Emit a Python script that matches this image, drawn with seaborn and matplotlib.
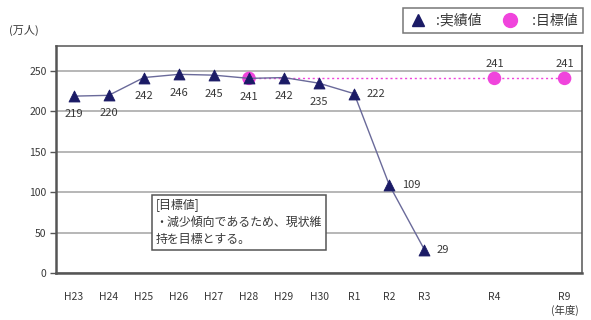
import matplotlib
matplotlib.use("Agg")
import matplotlib.pyplot as plt
from matplotlib.lines import Line2D
import seaborn as sns
import pandas as pd

sns.set_theme(style="white")
plt.rcParams["font.family"] = ["Noto Sans CJK JP", "DejaVu Sans"]

# fiscal years on the axis (blank slots keep the gap before R4 and R9)
year_labels = ["H23", "H24", "H25", "H26", "H27", "H28", "H29", "H30",
               "R1", "R2", "R3", "", "R4", "", "R9"]
actual_years = ["H23", "H24", "H25", "H26", "H27", "H28", "H29", "H30",
                "R1", "R2", "R3"]
actual_values = [219, 220, 242, 246, 245, 241, 242, 235, 222, 109, 29]
target_years = ["H28", "R4", "R9"]
target_values = [241, 241, 241]

pos = {y: i for i, y in enumerate(year_labels) if y}
actual = pd.DataFrame({"x": [pos[y] for y in actual_years], "v": actual_values})
target = pd.DataFrame({"x": [pos[y] for y in target_years], "v": target_values})

navy = "#1b1b66"
pink = "#f044dc"
txt = "#383838"

fig = plt.figure(figsize=(5.91, 3.2), dpi=100)
ax = fig.add_axes([0.095, 0.147, 0.890, 0.709])

# target line and markers
sns.lineplot(data=target, x="x", y="v", ax=ax, color=pink, lw=1.0,
             linestyle=(0, (1.5, 2)), zorder=2)
sns.scatterplot(data=target, x="x", y="v", ax=ax, color=pink, s=95,
                edgecolor="none", zorder=3)
# actual results
sns.lineplot(data=actual, x="x", y="v", ax=ax, color="#6a6a9a", lw=1.0,
             zorder=4)
sns.scatterplot(data=actual, x="x", y="v", ax=ax, marker="^", color=navy,
                s=62, edgecolor=navy, zorder=5)

# value labels
for x, v in zip(actual["x"], actual["v"]):
    if v >= 230:
        ax.annotate(str(v), (x, v), xytext=(0, -10), textcoords="offset points",
                    ha="center", va="top", fontsize=8, color=txt)
    elif v > 215 and x < 2:
        ax.annotate(str(v), (x, v), xytext=(0, -9), textcoords="offset points",
                    ha="center", va="top", fontsize=8, color=txt)
    else:
        ax.annotate(str(v), (x, v), xytext=(9, 0), textcoords="offset points",
                    ha="left", va="center", fontsize=8, color=txt)
for x, v in zip(target["x"][1:], target["v"][1:]):
    ax.annotate(str(v), (x, v), xytext=(0, 7), textcoords="offset points",
                ha="center", va="bottom", fontsize=8, color=txt)

ax.set_xlim(-0.5, len(year_labels) - 0.5)
ax.set_ylim(0, 281)
ax.set_yticks([0, 50, 100, 150, 200, 250])
ax.set_xticks(range(len(year_labels)))
ax.set_xticklabels(year_labels)
ax.set_xticks([i + 0.5 for i in range(len(year_labels) - 1)], minor=True)
ax.tick_params(axis="x", which="major", length=0, pad=14, labelsize=7.5,
               labelcolor=txt)
ax.tick_params(axis="x", which="minor", direction="in", length=4,
               width=1, color="#555555")
ax.tick_params(axis="y", length=4, width=1, color="#555555", labelsize=7.5,
               labelcolor=txt, pad=3, left=True)
ax.set_xlabel("")
ax.set_ylabel("")
ax.yaxis.grid(True, color="#aaaaaa", lw=1.2)
ax.set_axisbelow(True)
for side, sp in ax.spines.items():
    sp.set_visible(True)
    sp.set_color("#555555")
    sp.set_linewidth(1.8 if side in ("left", "bottom") else 1.1)

# note box
ax.text(2.34, 91, "[目標値]\n・減少傾向であるため、現状維\n持を目標とする。",
        fontsize=8.6, color=txt, va="top", ha="left", linespacing=1.38,
        bbox=dict(boxstyle="square,pad=0.35", fc="white", ec="#555555", lw=1.1),
        zorder=6)

# legend
handles = [
    Line2D([], [], marker="^", color=navy, ls="none", markersize=9),
    Line2D([], [], marker="o", color=pink, ls="none", markersize=10),
]
leg = fig.legend(handles, [":実績値", " :目標値"], ncol=2, loc="upper right",
                 bbox_to_anchor=(0.987, 0.975), borderaxespad=0,
                 frameon=True, fancybox=False,
                 edgecolor="#555555", fontsize=10, handletextpad=0.7,
                 columnspacing=1.4, borderpad=0.4, handlelength=1.3)
leg.get_frame().set_linewidth(1.1)
for t in leg.get_texts():
    t.set_color(txt)

fig.text(0.015, 0.905, "(万人)", fontsize=8, color=txt, va="center")
fig.text(0.955, 0.03, "(年度)", fontsize=7.5, color=txt, va="center",
         ha="center")

fig.savefig("out.png", dpi=100)
